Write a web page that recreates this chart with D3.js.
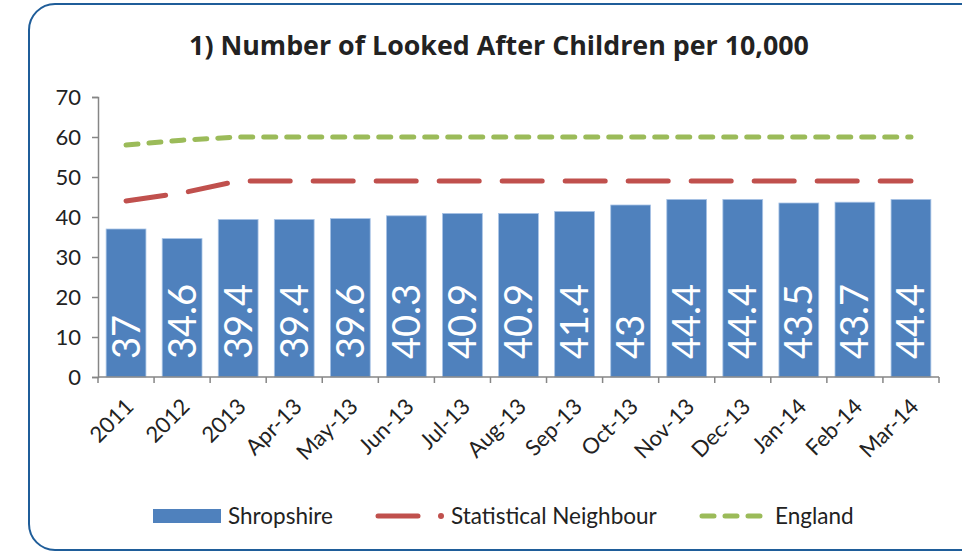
<!DOCTYPE html>
<html>
<head>
<meta charset="utf-8">
<script src="https://d3js.org/d3.v7.min.js"></script>
<style>
  html, body { margin: 0; padding: 0; background: #fff; }
  svg { display: block; font-family: Lato, "Open Sans", sans-serif; }
</style>
</head>
<body>
<svg id="chart" width="962" height="553"></svg>
<script>
// chart data
const categories = ["2011", "2012", "2013", "Apr-13", "May-13", "Jun-13", "Jul-13", "Aug-13",
  "Sep-13", "Oct-13", "Nov-13", "Dec-13", "Jan-14", "Feb-14", "Mar-14"];
const shropshire = [37, 34.6, 39.4, 39.4, 39.6, 40.3, 40.9, 40.9, 41.4, 43, 44.4, 44.4, 43.5, 43.7, 44.4];
const statNeighbour = [44, 46, 49, 49, 49, 49, 49, 49, 49, 49, 49, 49, 49, 49, 49];
const england = [58, 59.2, 60, 60, 60, 60, 60, 60, 60, 60, 60, 60, 60, 60, 60];
const yTicks = [0, 10, 20, 30, 40, 50, 60, 70];

const svg = d3.select("#chart");
const margin = { left: 98, right: 939, top: 97, bottom: 377 };

// frame
svg.append("rect")
  .attr("x", 29).attr("y", 4)
  .attr("width", 960).attr("height", 546)
  .attr("rx", 26).attr("ry", 26)
  .attr("fill", "none").attr("stroke", "#1f5d99").attr("stroke-width", 2);

svg.append("text")
  .attr("x", 499).attr("y", 55)
  .attr("text-anchor", "middle")
  .attr("font-family", "'Open Sans', sans-serif")
  .attr("font-size", 26.8).attr("font-weight", "bold").attr("fill", "#222")
  .text("1) Number of Looked After Children per 10,000");

const x = d3.scaleBand().domain(categories).range([margin.left, margin.right]).paddingInner(0.29).paddingOuter(0.145);
const y = d3.scaleLinear().domain([0, 70]).range([margin.bottom, margin.top]);

// y axis
const yAxis = svg.append("g")
  .attr("transform", `translate(${margin.left},0)`)
  .call(d3.axisLeft(y).tickValues(yTicks).tickSize(6).tickPadding(11));
yAxis.select(".domain").attr("stroke", "#868686").attr("stroke-width", 1.5);
yAxis.selectAll(".tick line").attr("stroke", "#868686").attr("stroke-width", 1.5);
yAxis.selectAll(".tick text").attr("font-size", 22).attr("fill", "#222").attr("font-family", "Lato, sans-serif");

// bars
svg.append("g").selectAll("rect")
  .data(shropshire)
  .join("rect")
  .attr("x", (d, i) => x(categories[i]))
  .attr("y", d => y(d))
  .attr("width", x.bandwidth())
  .attr("height", d => y(0) - y(d))
  .attr("fill", "#4f81bd")
  .attr("stroke", "#a9c4e6").attr("stroke-width", 0.8);

// bar labels
svg.append("g").selectAll("text")
  .data(shropshire)
  .join("text")
  .attr("transform", (d, i) => `translate(${x(categories[i]) + x.bandwidth() / 2 + 13.5},${y(0) - 18}) rotate(-90)`)
  .attr("font-size", 38).attr("fill", "#fff")
  .text(d => d);

// x axis
const step = x.step();
const xAxis = svg.append("g");
xAxis.append("line")
  .attr("x1", margin.left).attr("x2", margin.right)
  .attr("y1", y(0)).attr("y2", y(0))
  .attr("stroke", "#868686").attr("stroke-width", 1.5);
xAxis.selectAll("line.tk")
  .data(d3.range(categories.length + 1))
  .join("line").attr("class", "tk")
  .attr("x1", i => margin.left + i * step).attr("x2", i => margin.left + i * step)
  .attr("y1", y(0)).attr("y2", y(0) + 6)
  .attr("stroke", "#868686").attr("stroke-width", 1.5);
xAxis.selectAll("text")
  .data(categories)
  .join("text")
  .attr("transform", d => `translate(${x(d) + x.bandwidth() / 2 + 9},${y(0) + 31}) rotate(-45)`)
  .attr("text-anchor", "end")
  .attr("font-size", 22).attr("fill", "#222")
  .text(d => d);

// lines
const line = d3.line().x((d, i) => x(categories[i]) + x.bandwidth() / 2).y(d => y(d));
svg.append("path").datum(statNeighbour)
  .attr("d", line).attr("fill", "none")
  .attr("stroke", "#c0504d").attr("stroke-width", 5).attr("stroke-linecap", "round")
  .attr("stroke-dasharray", "40 23");
svg.append("path").datum(england)
  .attr("d", line).attr("fill", "none")
  .attr("stroke", "#9bbb59").attr("stroke-width", 5).attr("stroke-linecap", "round")
  .attr("stroke-dasharray", "12 11");

// legend
const lg = svg.append("g");
lg.append("rect").attr("x", 153).attr("y", 509).attr("width", 68).attr("height", 14).attr("fill", "#4f81bd");
lg.append("text").attr("x", 228).attr("y", 524).attr("font-size", 22.5).attr("fill", "#222").text("Shropshire");
lg.append("line").attr("x1", 378).attr("x2", 418).attr("y1", 516).attr("y2", 516)
  .attr("stroke", "#c0504d").attr("stroke-width", 5).attr("stroke-linecap", "round");
lg.append("circle").attr("cx", 441).attr("cy", 516).attr("r", 3).attr("fill", "#c0504d");
lg.append("text").attr("x", 451).attr("y", 524).attr("font-size", 22.5).attr("fill", "#222").text("Statistical Neighbour");
lg.append("line").attr("x1", 702).attr("x2", 760).attr("y1", 516).attr("y2", 516)
  .attr("stroke", "#9bbb59").attr("stroke-width", 5).attr("stroke-linecap", "round")
  .attr("stroke-dasharray", "12 11");
lg.append("text").attr("x", 775).attr("y", 524).attr("font-size", 22.5).attr("fill", "#222").text("England");
</script>
</body>
</html>
